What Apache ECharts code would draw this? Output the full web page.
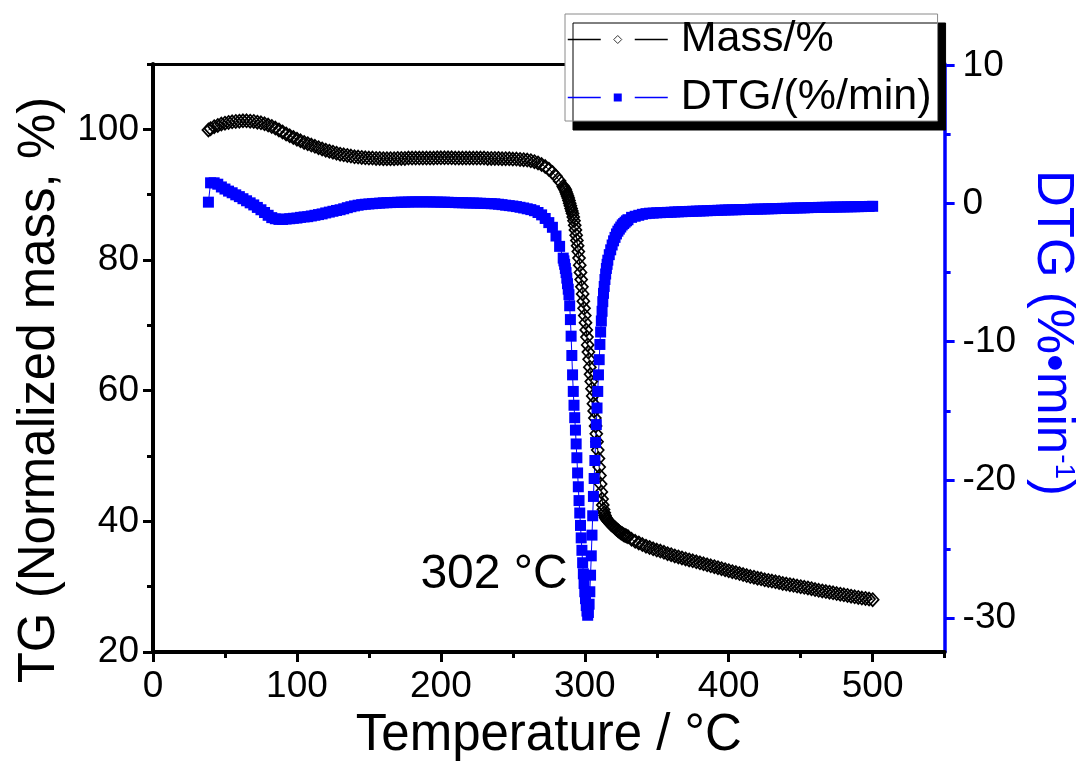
<!DOCTYPE html>
<html><head><meta charset="utf-8">
<script src="https://cdn.jsdelivr.net/npm/echarts@6/dist/echarts.min.js"></script>
<style>html,body{margin:0;padding:0;background:#fff}#c{width:1086px;height:767px}</style>
</head><body><div id="c"></div>
<script>
// ---- data ----
const temps = [
  38.5, 40, 42.5, 45, 47.5, 50, 52.5, 55, 57.5, 60,
  62.5, 65, 67.5, 70, 72.5, 75, 77.5, 80, 82.5, 85,
  87.5, 90, 92.5, 95, 97.5, 100, 102.5, 105, 107.5, 110,
  112.5, 115, 117.5, 120, 122.5, 125, 127.5, 130, 132.5, 135,
  137.5, 140, 142.5, 145, 147.5, 150, 152.5, 155, 157.5, 160,
  162.5, 165, 167.5, 170, 172.5, 175, 177.5, 180, 182.5, 185,
  187.5, 190, 192.5, 195, 197.5, 200, 202.5, 205, 207.5, 210,
  212.5, 215, 217.5, 220, 222.5, 225, 227.5, 230, 232.5, 235,
  237.5, 240, 242.5, 245, 247.5, 250, 252.5, 255, 257.5, 260,
  262.5, 265, 267.5, 270, 272.5, 275, 277.5, 280, 282.5, 285,
  285.5, 286, 286.5, 287, 287.5, 288, 288.5, 289, 289.5, 290,
  290.5, 291, 291.5, 292, 292.5, 293, 293.5, 294, 294.5, 295,
  295.5, 296, 296.5, 297, 297.5, 298, 298.5, 299, 299.5, 300,
  300.5, 301, 301.5, 302, 302.5, 303, 303.5, 304, 304.5, 305,
  305.5, 306, 306.5, 307, 307.5, 308, 308.5, 309, 309.5, 310,
  310.5, 311, 311.5, 312, 312.5, 313, 313.5, 314, 314.5, 315,
  315.5, 316, 317, 318, 319, 320, 321, 322, 323, 324,
  325, 326, 327, 328, 329, 330, 332.5, 335, 337.5, 340,
  342.5, 345, 347.5, 350, 352.5, 355, 357.5, 360, 362.5, 365,
  367.5, 370, 372.5, 375, 377.5, 380, 382.5, 385, 387.5, 390,
  392.5, 395, 397.5, 400, 402.5, 405, 407.5, 410, 412.5, 415,
  417.5, 420, 422.5, 425, 427.5, 430, 432.5, 435, 437.5, 440,
  442.5, 445, 447.5, 450, 452.5, 455, 457.5, 460, 462.5, 465,
  467.5, 470, 472.5, 475, 477.5, 480, 482.5, 485, 487.5, 490,
  492.5, 495, 497.5, 500
];
const massPct = [
  99.9, 100.1, 100.4, 100.6, 100.8, 100.95, 101.05, 101.15, 101.2, 101.25,
  101.3, 101.3, 101.25, 101.2, 101.1, 101.0, 100.85, 100.65, 100.45, 100.2,
  99.9, 99.6, 99.3, 99.0, 98.75, 98.5, 98.25, 98.0, 97.8, 97.6,
  97.4, 97.2, 97.0, 96.8, 96.65, 96.5, 96.35, 96.2, 96.1, 96.0,
  95.9, 95.8, 95.75, 95.7, 95.65, 95.6, 95.6, 95.55, 95.55, 95.5,
  95.5, 95.5, 95.5, 95.55, 95.55, 95.55, 95.6, 95.6, 95.6, 95.6,
  95.6, 95.6, 95.6, 95.6, 95.65, 95.65, 95.65, 95.65, 95.65, 95.6,
  95.6, 95.6, 95.6, 95.6, 95.6, 95.6, 95.6, 95.6, 95.55, 95.55,
  95.55, 95.55, 95.5, 95.5, 95.5, 95.45, 95.45, 95.4, 95.35, 95.3,
  95.2, 95.05, 94.85, 94.6, 94.3, 93.9, 93.4, 92.8, 92.1, 91.3,
  91.1, 90.9, 90.7, 90.4, 90.1, 89.8, 89.5, 89.1, 88.7, 88.3,
  87.9, 87.5, 87.1, 86.6, 86.0, 85.3, 84.6, 83.8, 83.0, 82.2,
  81.3, 80.3, 79.2, 78.1, 77.0, 75.9, 74.8, 73.7, 72.6, 71.5,
  70.4, 69.3, 68.2, 67.0, 65.9, 64.8, 63.6, 62.5, 61.4, 60.3,
  59.2, 58.0, 56.9, 55.8, 54.6, 53.4, 52.2, 50.9, 49.6, 48.3,
  47.0, 45.7, 44.5, 43.4, 42.5, 41.8, 41.3, 40.9, 40.6, 40.4,
  40.25, 40.1, 39.85, 39.6, 39.4, 39.2, 39.0, 38.8, 38.6, 38.4,
  38.25, 38.1, 37.95, 37.85, 37.75, 37.65, 37.25, 36.95, 36.7, 36.45,
  36.2, 36.0, 35.8, 35.6, 35.45, 35.25, 35.05, 34.9, 34.7, 34.55,
  34.4, 34.25, 34.1, 33.95, 33.8, 33.65, 33.5, 33.35, 33.2, 33.05,
  32.9, 32.75, 32.6, 32.45, 32.3, 32.15, 32.0, 31.85, 31.7, 31.55,
  31.45, 31.3, 31.2, 31.05, 30.95, 30.85, 30.75, 30.65, 30.5, 30.4,
  30.3, 30.2, 30.1, 30.0, 29.9, 29.8, 29.7, 29.55, 29.45, 29.35,
  29.25, 29.15, 29.05, 28.95, 28.85, 28.75, 28.65, 28.55, 28.45, 28.35,
  28.25, 28.2, 28.1, 28.0
];
const dtgVals = [
  0.1, 1.5, 1.5, 1.4, 1.2, 1.05, 0.9, 0.78, 0.63, 0.5,
  0.35, 0.2, 0.05, -0.1, -0.28, -0.45, -0.65, -0.85, -1.02, -1.1,
  -1.15, -1.15, -1.12, -1.1, -1.07, -1.05, -1.0, -0.97, -0.95, -0.9,
  -0.85, -0.8, -0.75, -0.68, -0.62, -0.56, -0.5, -0.45, -0.38, -0.3,
  -0.23, -0.17, -0.12, -0.08, -0.05, -0.03, -0.01, 0.01, 0.03, 0.05,
  0.06, 0.07, 0.08, 0.09, 0.1, 0.1, 0.11, 0.12, 0.12, 0.12,
  0.12, 0.12, 0.12, 0.11, 0.11, 0.1, 0.1, 0.09, 0.08, 0.07,
  0.06, 0.06, 0.05, 0.04, 0.04, 0.03, 0.02, 0.01, 0.0, -0.01,
  -0.02, -0.05, -0.08, -0.12, -0.15, -0.18, -0.22, -0.27, -0.32, -0.38,
  -0.44, -0.52, -0.65, -0.82, -1.08, -1.38, -1.72, -2.35, -3.1, -3.95,
  -4.15, -4.4, -4.7, -5.0, -5.4, -5.8, -6.2, -6.6, -7.4, -8.4,
  -9.6, -11.0, -12.4, -13.6, -14.6, -15.5, -16.4, -17.4, -18.4, -19.5,
  -20.5, -21.5, -22.4, -23.3, -24.2, -25.1, -26.0, -26.8, -27.5, -28.1,
  -28.6, -29.1, -29.5, -29.8, -29.6, -29.0, -28.1, -26.9, -25.5, -24.0,
  -22.6, -21.2, -19.9, -18.6, -17.3, -16.0, -14.8, -13.6, -12.4, -11.3,
  -10.2, -9.3, -8.5, -7.8, -7.1, -6.5, -6.0, -5.5, -5.1, -4.7,
  -4.4, -4.1, -3.7, -3.35, -3.0, -2.7, -2.45, -2.2, -2.0, -1.85,
  -1.7, -1.55, -1.45, -1.35, -1.25, -1.17, -1.0, -0.92, -0.85, -0.78,
  -0.73, -0.7, -0.69, -0.67, -0.66, -0.65, -0.64, -0.63, -0.61, -0.6,
  -0.59, -0.58, -0.57, -0.56, -0.55, -0.54, -0.53, -0.52, -0.51, -0.5,
  -0.49, -0.48, -0.47, -0.46, -0.455, -0.45, -0.44, -0.435, -0.43, -0.42,
  -0.41, -0.405, -0.4, -0.39, -0.38, -0.375, -0.37, -0.36, -0.35, -0.345,
  -0.34, -0.33, -0.32, -0.315, -0.31, -0.3, -0.29, -0.285, -0.28, -0.275,
  -0.27, -0.265, -0.26, -0.255, -0.25, -0.245, -0.24, -0.235, -0.23, -0.225,
  -0.22, -0.215, -0.21, -0.2
];
const xTicks = [0, 100, 200, 300, 400, 500];
const xMinorTicks = [50, 150, 250, 350, 450, 550];
const tgTicks = [20, 40, 60, 80, 100];
const tgMinorTicks = [30, 50, 70, 90, 110];
const dtgTicks = [-30, -20, -10, 0, 10];
const dtgMinorTicks = [-25, -15, -5, 5];
const massName = 'Mass/%';
const dtgName = 'DTG/(%/min)';
const peakTemp = 302;
const peakDtg = -29.8;
const peakLabel = '302 °C';

// ---- chart ----
const FF = 'Liberation Sans, Arial, sans-serif';
const BLUE = '#0000ff';
const chart = echarts.init(document.getElementById('c'), null, {renderer: 'canvas'});

const massData = temps.map((t, i) => [t, massPct[i]]);
const dtgData = temps.map((t, i) => [t, dtgVals[i]]);

function minorAxisY(min, max, pos, ticks, color) {
  return {
    type: 'value', min: min, max: max, position: pos,
    axisLine: {show: false, onZero: false}, splitLine: {show: false}, axisLabel: {show: false},
    axisTick: {show: true, customValues: ticks, length: 6, lineStyle: {width: 3, color: color}}
  };
}

chart.setOption({
  animation: false,
  backgroundColor: '#fff',
  textStyle: {fontFamily: FF},
  grid: {left: 153, right: 141, top: 64, bottom: 115, containLabel: false},
  legend: {
    orient: 'vertical', left: 565, top: 14,
    padding: [4, 6, 2, 2], itemGap: 15, itemWidth: 100, itemHeight: 10,
    backgroundColor: '#fff', borderColor: '#8a8a8a', borderWidth: 1,
    shadowColor: '#000', shadowBlur: 0, shadowOffsetX: 8, shadowOffsetY: 9,
    textStyle: {fontSize: 43, color: '#000', fontFamily: FF, padding: [0, 0, 0, 8]},
    data: [
      {name: massName, lineStyle: {type: [33, 34], width: 1.5},
       itemStyle: {color: '#fff', borderColor: '#333', borderWidth: 1}},
      {name: dtgName, lineStyle: {type: [33, 34], width: 1.5}}
    ]
  },
  xAxis: [
    {
      type: 'value', min: 0, max: 550, position: 'bottom',
      axisLine: {show: true, onZero: false, lineStyle: {color: '#000', width: 4}},
      axisTick: {show: true, customValues: xTicks, length: 10, lineStyle: {width: 3, color: '#000'}},
      axisLabel: {customValues: xTicks, fontSize: 37, color: '#000', margin: 16, fontFamily: FF},
      splitLine: {show: false},
      name: 'Temperature / °C', nameLocation: 'middle', nameGap: 58,
      nameTextStyle: {fontSize: 51, color: '#000', fontFamily: FF}
    },
    {
      type: 'value', min: 0, max: 550, position: 'bottom',
      axisLine: {show: false, onZero: false}, splitLine: {show: false}, axisLabel: {show: false},
      axisTick: {show: true, customValues: xMinorTicks, length: 6, lineStyle: {width: 3, color: '#000'}}
    },
    {
      type: 'value', min: 0, max: 550, position: 'top',
      axisLine: {show: true, onZero: false, lineStyle: {color: '#000', width: 3}},
      axisTick: {show: false}, axisLabel: {show: false}, splitLine: {show: false}
    }
  ],
  yAxis: [
    {
      type: 'value', min: 20, max: 110, position: 'left',
      axisLine: {show: true, onZero: false, lineStyle: {color: '#000', width: 4}},
      axisTick: {show: true, customValues: tgTicks, length: 10, lineStyle: {width: 3, color: '#000'}},
      axisLabel: {customValues: tgTicks, fontSize: 37, color: '#000', margin: 14, fontFamily: FF},
      splitLine: {show: false},
      name: 'TG (Normalized mass, %)', nameLocation: 'middle', nameGap: 88, nameRotate: 90,
      nameTextStyle: {fontSize: 51, color: '#000', fontFamily: FF, padding: [0, 64, 0, 0]}
    },
    {
      type: 'value', min: -32.46, max: 10.1, position: 'right',
      axisLine: {show: true, onZero: false, lineStyle: {color: BLUE, width: 3.5}},
      axisTick: {show: true, customValues: dtgTicks, length: 10, lineStyle: {width: 3, color: BLUE}},
      axisLabel: {customValues: dtgTicks, fontSize: 37, color: '#000', margin: 18, fontFamily: FF},
      splitLine: {show: false},
      name: 'DTG (%•min{sup|-1})', nameLocation: 'middle', nameGap: 75, nameRotate: -90,
      nameTextStyle: {
        fontSize: 51, color: BLUE, fontFamily: FF, padding: [0, 50, 0, 0],
        rich: {sup: {fontSize: 28, color: BLUE, fontFamily: FF, verticalAlign: 'top', lineHeight: 28}}
      }
    },
    minorAxisY(20, 110, 'left', tgMinorTicks, '#000'),
    minorAxisY(-32.46, 10.1, 'right', dtgMinorTicks, BLUE)
  ],
  series: [
    {
      name: massName, type: 'line', xAxisIndex: 0, yAxisIndex: 0,
      data: massData, symbol: 'diamond', symbolSize: [12, 13], showAllSymbol: true,
      lineStyle: {color: '#000', width: 1},
      itemStyle: {color: 'rgba(255,255,255,0)', borderColor: '#000', borderWidth: 1.7},
      emphasis: {disabled: true}
    },
    {
      name: dtgName, type: 'line', xAxisIndex: 0, yAxisIndex: 1,
      data: dtgData, symbol: 'rect', symbolSize: 11, showAllSymbol: true,
      lineStyle: {color: BLUE, width: 1},
      itemStyle: {color: BLUE, borderWidth: 0},
      emphasis: {disabled: true},
      markPoint: {
        symbol: 'circle', symbolSize: 0, silent: true,
        label: {show: true, position: 'left', distance: 20, offset: [0, -40],
                formatter: peakLabel, fontSize: 48, color: '#000', fontFamily: FF},
        data: [{coord: [peakTemp, peakDtg]}]
      }
    }
  ]
});
</script>
</body></html>
